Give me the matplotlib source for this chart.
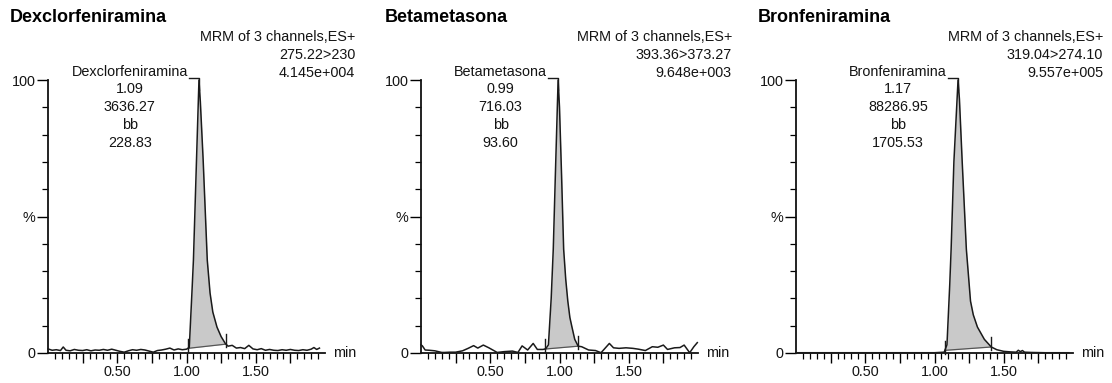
import matplotlib
matplotlib.use("Agg")
import matplotlib.pyplot as plt
from matplotlib.ticker import FixedLocator, FixedFormatter

plt.rcParams['font.family'] = ['Liberation Sans', 'DejaVu Sans']

# ---------------- data ----------------
titles = ["Dexclorfeniramina", "Betametasona", "Bronfeniramina"]
channels = ["275.22>230", "393.36>373.27", "319.04>274.10"]
max_intensity = ["4.145e+004", "9.648e+003", "9.557e+005"]
peak_rt = [1.09, 0.99, 1.17]
peak_area = ["3636.27", "716.03", "88286.95"]
peak_type = ["bb", "bb", "bb"]
peak_height = ["228.83", "93.60", "1705.53"]
int_start = [1.01, 0.895, 1.075]
int_end = [1.285, 1.135, 1.41]

t1 = [0.00, 0.03, 0.06, 0.09, 0.11, 0.13, 0.16, 0.19, 0.22, 0.25,
      0.28, 0.31, 0.34, 0.37, 0.40, 0.43, 0.46, 0.49, 0.52, 0.55,
      0.58, 0.61, 0.64, 0.67, 0.70, 0.73, 0.76, 0.79, 0.82, 0.85,
      0.88, 0.91, 0.94, 0.97, 1.00, 1.02, 1.04, 1.05, 1.07, 1.09,
      1.10, 1.12, 1.15, 1.17, 1.19, 1.22, 1.25, 1.28, 1.30, 1.33,
      1.36, 1.39, 1.42, 1.45, 1.48, 1.51, 1.54, 1.57, 1.60, 1.63,
      1.66, 1.69, 1.72, 1.75, 1.78, 1.81, 1.84, 1.87, 1.90, 1.92,
      1.94, 1.96]
y1 = [1.5, 1.0, 1.2, 0.9, 2.2, 1.0, 0.8, 1.3, 1.0, 0.9,
      1.2, 0.8, 1.1, 1.0, 1.3, 1.0, 1.4, 1.0, 0.6, 0.3,
      0.8, 1.2, 1.0, 1.3, 1.1, 0.7, 0.3, 0.9, 1.1, 1.4,
      1.8, 1.1, 1.5, 1.2, 1.4, 2.0, 23, 34, 67, 100,
      92, 71, 34, 22, 15, 9.5, 6, 3.5, 2.5, 2.8,
      1.8, 2.0, 1.6, 2.8, 1.5, 1.2, 1.6, 1.0, 1.3, 1.0,
      0.9, 1.2, 1.0, 1.3, 1.0, 0.9, 1.2, 1.0, 1.4, 2.0,
      1.3, 1.8]

t2 = [0.00, 0.01, 0.03, 0.06, 0.10, 0.15, 0.17, 0.21, 0.25, 0.30,
      0.34, 0.38, 0.41, 0.45, 0.49, 0.55, 0.60, 0.66, 0.70, 0.73,
      0.77, 0.81, 0.84, 0.88, 0.90, 0.92, 0.94, 0.955, 0.97, 0.99,
      1.00, 1.015, 1.03, 1.045, 1.06, 1.075, 1.09, 1.11, 1.135, 1.16,
      1.21, 1.26, 1.30, 1.36, 1.39, 1.43, 1.48, 1.53, 1.57, 1.62,
      1.67, 1.71, 1.75, 1.78, 1.83, 1.87, 1.90, 1.94, 1.97, 1.995]
y2 = [3.0, 2.6, 1.1, 1.0, 0.8, 0.2, 0.2, 0.3, 0.3, 0.8,
      1.7, 2.7, 1.8, 2.9, 1.9, 0.2, 0.5, 0.7, 0.2, 2.6,
      1.1, 3.5, 1.3, 1.3, 1.5, 3.0, 20, 38, 65, 100,
      90, 65, 38, 27, 19, 13, 9.5, 5, 2.5, 2.3,
      1.1, 0.9, 0.1, 3.5, 1.9, 1.7, 1.9, 1.7, 1.4, 0.9,
      2.3, 2.1, 2.9, 1.3, 1.9, 2.0, 2.9, 0.1, 2.3, 3.8]

t3 = [0.00, 0.20, 0.40, 0.60, 0.80, 1.00, 1.07, 1.09, 1.11, 1.12,
      1.14, 1.17, 1.18, 1.20, 1.23, 1.26, 1.28, 1.31, 1.36, 1.41,
      1.45, 1.50, 1.55, 1.59, 1.605, 1.62, 1.635, 1.65, 1.70, 1.80,
      1.90, 1.97]
y3 = [0.1, 0.1, 0.1, 0.1, 0.1, 0.1, 0.3, 3, 25, 38,
      70, 100, 93, 70, 38, 19, 14, 9.5, 5, 2.2,
      1.2, 0.6, 0.4, 0.3, 1.0, 0.5, 0.9, 0.3, 0.2, 0.1,
      0.1, 0.1]

times = [t1, t2, t3]
intens = [y1, y2, y3]

x_major = [0.25, 0.50, 0.75, 1.00, 1.25, 1.50, 1.75]
x_major_labels = ["", "0.50", "", "1.00", "", "1.50", ""]
x_minor = [round(0.05 * k, 2) for k in range(1, 40)]
y_major = [0, 50, 100]
y_major_labels = ["0", "%", "100"]
y_minor = [10, 20, 30, 40, 60, 70, 80, 90]

# ---------------- layout ----------------
W, H = 1112, 383
DPI = 100
fig = plt.figure(figsize=(W / DPI, H / DPI), dpi=DPI)

ax_left_px = [48, 421, 796]
ax_w_px = 277
ax_top_px = 80
ax_bot_px = 353
title_x_px = [10, 385, 758]
hdr_right_px = [355, 732, 1103]

TXT = "#141414"
FS = 10.4

def interp(tl, yl, t):
    for i in range(len(tl) - 1):
        if tl[i] <= t <= tl[i + 1]:
            f = (t - tl[i]) / (tl[i + 1] - tl[i])
            return yl[i] + f * (yl[i + 1] - yl[i])
    return yl[-1]

for i in range(3):
    ax = fig.add_axes([ax_left_px[i] / W, 1 - ax_bot_px / H,
                       ax_w_px / W, (ax_bot_px - ax_top_px) / H])
    ax.set_xlim(0, 2.0)
    ax.set_ylim(0, 100)
    for s in ["top", "right"]:
        ax.spines[s].set_visible(False)
    for s in ["left", "bottom"]:
        ax.spines[s].set_linewidth(1.3)
        ax.spines[s].set_color("#111111")
    ax.patch.set_alpha(0)

    tl, yl = times[i], intens[i]
    ts, te = int_start[i], int_end[i]
    ys, ye = interp(tl, yl, ts), interp(tl, yl, te)

    # integrated area
    px = [ts] + [t for t in tl if ts < t < te] + [te]
    py = [ys] + [y for t, y in zip(tl, yl) if ts < t < te] + [ye]
    base = [ys + (ye - ys) * (t - ts) / (te - ts) for t in px]
    ax.fill_between(px, base, py, color="#c9c9c9", linewidth=0, zorder=1)
    ax.plot([ts, te], [ys, ye], color="#555555", lw=0.9, zorder=2)
    ax.plot(tl, yl, color="#1a1a1a", lw=1.1, zorder=3, clip_on=False)
    for tm, ym in [(ts, ys), (te, ye)]:
        ax.plot([tm, tm], [ym - 1.2, ym + 3.6], color="#1a1a1a", lw=1.0,
                zorder=4, clip_on=False)

    # ticks
    ax.xaxis.set_major_locator(FixedLocator(x_major))
    ax.xaxis.set_major_formatter(FixedFormatter(x_major_labels))
    ax.xaxis.set_minor_locator(FixedLocator(x_minor))
    ax.yaxis.set_major_locator(FixedLocator(y_major))
    ax.yaxis.set_major_formatter(FixedFormatter(y_major_labels))
    ax.yaxis.set_minor_locator(FixedLocator(y_minor))
    ax.tick_params(axis="x", which="major", direction="out", length=7,
                   width=1.0, pad=1.5, labelsize=FS, labelcolor=TXT)
    ax.tick_params(axis="x", which="minor", direction="out", length=4, width=0.9)
    ax.tick_params(axis="y", which="major", direction="out", length=8,
                   width=1.0, pad=1, labelsize=FS, labelcolor=TXT)
    ax.tick_params(axis="y", which="minor", direction="out", length=4, width=0.9)

    ax.annotate("min", xy=(1, 0), xycoords="axes fraction", xytext=(8, 0),
                textcoords="offset pixels", ha="left", va="center",
                fontsize=FS, color=TXT)

    # peak annotation
    apex = peak_rt[i]
    pxmin = ax_w_px / 2.0
    anchor = apex - 11 / pxmin
    name = ax.annotate(titles[i], xy=(anchor, 100), xycoords="data",
                       xytext=(0, 8), textcoords="offset pixels",
                       ha="right", va="center", fontsize=FS, color=TXT)
    fig.canvas.draw()
    bb = name.get_window_extent()
    cx = ax.transData.inverted().transform(((bb.x0 + bb.x1) / 2, 0))[0]
    sub = ["%.2f" % apex, peak_area[i], peak_type[i], peak_height[i]]
    for k, s in enumerate(sub):
        ax.annotate(s, xy=(cx, 100), xycoords="data",
                    xytext=(0, -9 - 18 * k), textcoords="offset pixels",
                    ha="center", va="center", fontsize=FS, color=TXT)
    ax.plot([anchor + 1 / pxmin, apex, apex], [100.6, 100.6, 96.5],
            color="#1a1a1a", lw=1.0, clip_on=False, zorder=5)

    # header
    fig.text(title_x_px[i] / W, 1 - 17 / H, titles[i], ha="left", va="center",
             fontsize=13, fontweight="bold", color="#000000")
    for k, s in enumerate(["MRM of 3 channels,ES+", channels[i], max_intensity[i]]):
        fig.text(hdr_right_px[i] / W, 1 - (37 + 18 * k) / H, s, ha="right",
                 va="center", fontsize=FS, color=TXT)

fig.savefig("out.png", dpi=DPI)
